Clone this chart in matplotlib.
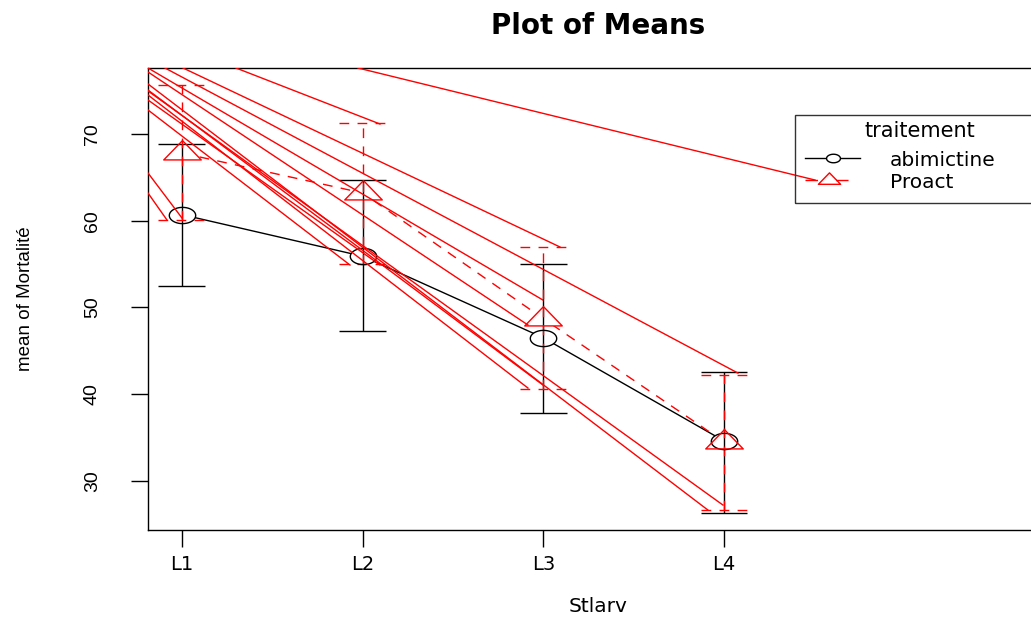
import matplotlib
matplotlib.use('Agg')
import matplotlib.pyplot as plt
from matplotlib.path import Path
from matplotlib.patches import Rectangle
import numpy as np

# ---------------- data ----------------
levels = ['L1', 'L2', 'L3', 'L4']
abim_mean = [60.7, 55.9, 46.5, 34.6]
abim_upper = [68.85, 64.7, 55.0, 42.55]
abim_lower = [52.5, 47.3, 37.8, 26.3]
proact_mean = [67.8, 63.2, 48.7, 34.5]
proact_upper = [75.65, 71.3, 57.0, 42.2]
proact_lower = [60.1, 55.0, 40.6, 26.6]
yticks = [30, 40, 50, 60, 70]

# stray red segments visible in the original device output (data units)
stray_x0 = [1.974, 1.299, 1.006, 0.906, 0.812, 0.812, 0.812, 0.812, 0.812, 0.812, 0.812, 0.812, 0.812, 0.812]
stray_y0 = [77.61, 77.61, 77.61, 77.61, 74.96, 75.77, 75.07, 74.50, 73.92, 72.77, 65.50, 63.19, 77.61, 77.15]
stray_x1 = [4.504, 2.096, 3.092, 4.077, 3.994, 3.911, 2.998, 2.915, 2.096, 1.930, 1.000, 0.917, 2.998, 2.915]
stray_y1 = [64.69, 71.15, 56.97, 42.43, 27.21, 26.63, 41.05, 40.70, 54.89, 54.89, 60.31, 60.08, 50.85, 47.97]

legend_title = 'traitement'
legend_labels = ['abimictine', 'Proact']

# ---------------- figure ----------------
W, H = 1031, 617
fig = plt.figure(figsize=(W / 100, H / 100), dpi=100)
ax_l, ax_r, ax_t, ax_b = 148, 1048, 68, 530
ax = fig.add_axes([ax_l / W, 1 - ax_b / H, (ax_r - ax_l) / W, (ax_b - ax_t) / H])

def fx(px):
    return (px - ax_l) / (ax_r - ax_l)

def fy(py):
    return (ax_b - py) / (ax_b - ax_t)

x = np.arange(1, len(levels) + 1)

theta = np.linspace(0, 2 * np.pi, 61)
ellipse = Path(np.column_stack([np.cos(theta), 0.615 * np.sin(theta)]), closed=True)
tri = Path([(0, 0.687), (1, -0.343), (-1, -0.343), (0, 0.687)], closed=True)

dash = (0, (7, 6))
cap = 0.13

# connecting lines
ax.plot(x, abim_mean, color='black', lw=1.0, zorder=1)
ax.plot(x, proact_mean, color='red', lw=1.0, linestyle=dash, zorder=1)
# white gaps around points (type "b")
ax.plot(x, abim_mean, ls='none', marker=ellipse, ms=19, mfc='white', mec='none', zorder=2)
ax.plot(x, proact_mean, ls='none', marker=tri, ms=27, mfc='white', mec='none', zorder=2)

# error bars
ax.vlines(x, abim_lower, abim_upper, color='black', lw=1.0, zorder=3)
ax.hlines(abim_upper, x - cap, x + cap, color='black', lw=1.0, zorder=3)
ax.hlines(abim_lower, x - cap, x + cap, color='black', lw=1.0, zorder=3)
ax.vlines(x, proact_lower, proact_upper, color='red', lw=1.0, linestyle=dash, zorder=3.5)
ax.hlines(proact_upper, x - cap, x + cap, color='red', lw=1.0, linestyle=dash, zorder=3.5)
ax.hlines(proact_lower, x - cap, x + cap, color='red', lw=1.0, linestyle=dash, zorder=3.5)

# point outlines
ax.plot(x, abim_mean, ls='none', marker=ellipse, ms=19, mfc='none', mec='black', mew=1.0, zorder=4)
ax.plot(x, proact_mean, ls='none', marker=tri, ms=27, mfc='none', mec='red', mew=1.0, zorder=4)

# stray red segments
for x0, y0, x1, y1 in zip(stray_x0, stray_y0, stray_x1, stray_y1):
    ax.plot([x0, x1], [y0, y1], color='red', lw=1.0, zorder=5)

# axes
ax.set_xlim(0.812, 1 + (ax_r - 182) / 180.67)
ax.set_ylim(24.33, 77.61)
ax.set_xticks(x)
ax.set_xticklabels(levels, fontsize=14, family='DejaVu Sans')
ax.set_yticks(yticks)
ax.set_yticklabels([str(v) for v in yticks], fontsize=14, family='Liberation Sans',
                   rotation=90, va='center')
ax.tick_params(axis='y', direction='out', length=12, width=1.0, pad=22)
ax.tick_params(axis='x', direction='out', length=12, width=1.0, pad=6)
for s in ax.spines.values():
    s.set_linewidth(1.0)
    s.set_color('black')

ax.set_xlabel('Stlarv', fontsize=14.5, family='DejaVu Sans')
ax.xaxis.set_label_coords(0.5, fy(597))
ax.xaxis.label.set_va('top')
ax.set_ylabel('mean of Mortalité', fontsize=13.5, family='Liberation Sans')
ax.yaxis.set_label_coords(fx(34), 0.5)

fig.text(598 / W, 1 - 26 / H, 'Plot of Means', ha='center', va='center',
         fontsize=20, fontweight='bold', family='DejaVu Sans')

# legend (manual, R style)
ax.add_patch(Rectangle((fx(795), fy(203)), fx(1070) - fx(795), fy(115) - fy(203),
                       transform=ax.transAxes, fill=False, edgecolor='#333333',
                       lw=1.0, clip_on=False, zorder=6))
ax.text(fx(920), fy(131), legend_title, transform=ax.transAxes, ha='center', va='center',
        fontsize=15, family='DejaVu Sans', zorder=6)
ax.plot([fx(805), fx(860)], [fy(158), fy(158)], transform=ax.transAxes, color='black',
        lw=1.0, zorder=6, clip_on=False)
ax.plot([fx(833)], [fy(158)], transform=ax.transAxes, ls='none', marker=ellipse, ms=10,
        mfc='white', mec='black', mew=1.0, zorder=7, clip_on=False)
ax.plot([fx(805), fx(860)], [fy(180), fy(180)], transform=ax.transAxes, color='red',
        lw=1.0, linestyle=(0, (9, 13)), zorder=6, clip_on=False)
ax.plot([fx(829)], [fy(180)], transform=ax.transAxes, ls='none', marker=tri, ms=16,
        mfc='none', mec='red', mew=1.0, zorder=7, clip_on=False)
ax.text(fx(890), fy(161), legend_labels[0], transform=ax.transAxes, ha='left', va='center',
        fontsize=14.5, family='DejaVu Sans', zorder=6)
ax.text(fx(890), fy(183), legend_labels[1], transform=ax.transAxes, ha='left', va='center',
        fontsize=14.5, family='DejaVu Sans', zorder=6)

fig.savefig('out.png', dpi=100)
